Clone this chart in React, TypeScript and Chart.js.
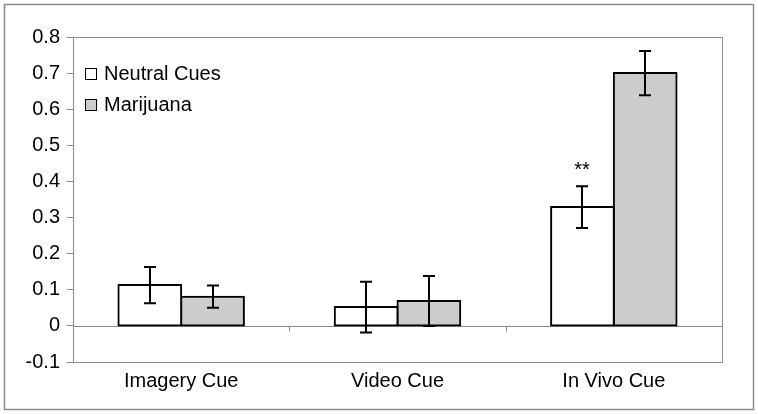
import React, { useEffect, useRef } from "react";
import { Chart, registerables } from "chart.js";

Chart.register(...registerables);

const categories = ["Imagery Cue", "Video Cue", "In Vivo Cue"];
const seriesNames = ["Neutral Cues", "Marijuana"];
const neutralValues = [0.113, 0.052, 0.329];
const neutralErrors = [0.05, 0.07, 0.058];
const marijuanaValues = [0.081, 0.069, 0.7];
const marijuanaErrors = [0.031, 0.069, 0.061];
const neutralMarks = ["", "", "**"];
const yMin = -0.1;
const yMax = 0.8;
const yStep = 0.1;

const FONT = "'Liberation Sans', Arial, sans-serif";

const errorsBySeries = [neutralErrors, marijuanaErrors];
const marksBySeries = [neutralMarks, ["", "", ""]];

const decorPlugin = {
  id: "decor",
  beforeDraw(chart: any) {
    const { ctx, width, height } = chart;
    ctx.save();
    ctx.fillStyle = "#ffffff";
    ctx.fillRect(0, 0, width, height);
    ctx.strokeStyle = "#8a8a8a";
    ctx.lineWidth = 1.5;
    ctx.strokeRect(4.5, 4.5, width - 9, height - 9);
    ctx.restore();
  },
  beforeDatasetsDraw(chart: any) {
    const { ctx, chartArea } = chart;
    const y = chart.scales.y;
    ctx.save();
    ctx.strokeStyle = "#8c8c8c";
    ctx.lineWidth = 1;
    ctx.strokeRect(
      Math.round(chartArea.left) + 0.5,
      Math.round(chartArea.top) + 0.5,
      Math.round(chartArea.right - chartArea.left),
      Math.round(chartArea.bottom - chartArea.top)
    );
    const y0 = Math.round(y.getPixelForValue(0)) + 0.5;
    ctx.beginPath();
    ctx.moveTo(chartArea.left, y0);
    ctx.lineTo(chartArea.right, y0);
    const n = categories.length;
    const w = (chartArea.right - chartArea.left) / n;
    for (let i = 1; i < n; i++) {
      const bx = Math.round(chartArea.left + i * w) + 0.5;
      ctx.moveTo(bx, y0);
      ctx.lineTo(bx, y0 + 5);
    }
    ctx.stroke();
    ctx.restore();
  },
  afterDatasetsDraw(chart: any) {
    const { ctx } = chart;
    const y = chart.scales.y;
    ctx.save();
    chart.data.datasets.forEach((ds: any, di: number) => {
      const meta = chart.getDatasetMeta(di);
      meta.data.forEach((bar: any, i: number) => {
        const v = ds.data[i];
        const e = errorsBySeries[di][i];
        const top = y.getPixelForValue(v + e);
        const bot = y.getPixelForValue(v - e);
        const cx = Math.round(bar.x);
        ctx.strokeStyle = "#000";
        ctx.lineWidth = 2;
        ctx.beginPath();
        ctx.moveTo(cx, top);
        ctx.lineTo(cx, bot);
        ctx.moveTo(cx - 6, top);
        ctx.lineTo(cx + 6, top);
        ctx.moveTo(cx - 6, bot);
        ctx.lineTo(cx + 6, bot);
        ctx.stroke();
        const mark = marksBySeries[di][i];
        if (mark) {
          ctx.fillStyle = "#000";
          ctx.font = `20px ${FONT}`;
          ctx.textAlign = "center";
          ctx.textBaseline = "alphabetic";
          ctx.fillText(mark, cx, top - 10);
        }
      });
    });
    // legend
    const lx = 85.5;
    const ly = 68.5;
    chart.data.datasets.forEach((ds: any, di: number) => {
      const yy = ly + di * 31;
      ctx.fillStyle = ds.backgroundColor;
      ctx.fillRect(lx, yy, 11, 11);
      ctx.strokeStyle = "#000";
      ctx.lineWidth = 1;
      ctx.strokeRect(lx, yy, 11, 11);
      ctx.fillStyle = "#000";
      ctx.font = `20px ${FONT}`;
      ctx.textAlign = "left";
      ctx.textBaseline = "middle";
      ctx.fillText(seriesNames[di], 104, yy + 5.5);
    });
    ctx.restore();
  },
};

export default function App() {
  const ref = useRef<HTMLCanvasElement>(null);
  useEffect(() => {
    if (!ref.current) return;
    const chart = new Chart(ref.current, {
      type: "bar",
      data: {
        labels: categories,
        datasets: [
          {
            label: seriesNames[0],
            data: neutralValues,
            backgroundColor: "#ffffff",
            borderColor: "#000000",
            borderWidth: 2,
            borderSkipped: false,
            inflateAmount: 1,
            categoryPercentage: 0.58,
            barPercentage: 1.0,
          },
          {
            label: seriesNames[1],
            data: marijuanaValues,
            backgroundColor: "#cccccc",
            borderColor: "#000000",
            borderWidth: 2,
            borderSkipped: false,
            inflateAmount: 1,
            categoryPercentage: 0.58,
            barPercentage: 1.0,
          },
        ],
      },
      options: {
        animation: false,
        responsive: false,
        maintainAspectRatio: false,
        devicePixelRatio: 1,
        layout: { padding: { left: 0, top: 37, right: 36, bottom: 0 } },
        plugins: {
          legend: { display: false },
          tooltip: { enabled: false },
        },
        scales: {
          x: {
            grid: { display: false, drawTicks: false },
            border: { display: false },
            ticks: {
              color: "#000",
              font: { family: FONT, size: 20 },
              padding: 7,
              maxRotation: 0,
            },
            afterFit(scale: any) {
              scale.height = 52;
            },
          },
          y: {
            min: yMin,
            max: yMax,
            grid: {
              drawOnChartArea: false,
              drawTicks: true,
              tickLength: 6,
              color: "#8c8c8c",
            },
            border: { display: true, color: "#8c8c8c" },
            ticks: {
              stepSize: yStep,
              color: "#000",
              font: { family: FONT, size: 20 },
              padding: 7,
              callback: (v: any) => String(Number(Number(v).toFixed(1))),
            },
            afterFit(scale: any) {
              scale.width = 73;
            },
          },
        },
      },
      plugins: [decorPlugin],
    });
    return () => chart.destroy();
  }, []);
  return (
    <div style={{ position: "absolute", left: 0, top: 0, width: 758, height: 414 }}>
      <canvas ref={ref} width={758} height={414} style={{ width: 758, height: 414 }} />
    </div>
  );
}
